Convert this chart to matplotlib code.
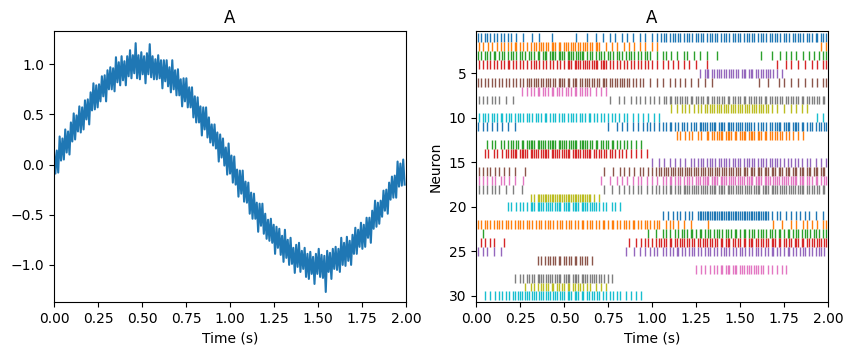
"""
Two-panel figure: noisy sine signal (left) and spike raster of 30 neurons (right).
Values read off the reference picture.
"""
import numpy as np
import matplotlib
matplotlib.use("Agg")
import matplotlib.pyplot as plt

# --- left panel: signal samples (125 Hz) ---
FS = 125.0
signal = [
    0.13, -0.09, 0.14, -0.08, 0.28, 0.04, 0.26, 0.05, 0.35, 0.12,
    0.33, 0.10, 0.42, 0.23, 0.51, 0.25, 0.49, 0.33, 0.58, 0.32,
    0.57, 0.35, 0.64, 0.45, 0.65, 0.40, 0.72, 0.54, 0.81, 0.55,
    0.79, 0.57, 0.80, 0.63, 0.88, 0.68, 0.89, 0.63, 0.94, 0.75,
    0.97, 0.75, 0.96, 0.73, 1.07, 0.82, 1.02, 0.79, 1.08, 0.84,
    1.03, 0.79, 1.08, 0.88, 1.14, 0.86, 1.09, 0.91, 1.21, 0.86,
    1.09, 0.85, 1.12, 0.90, 1.08, 0.81, 1.11, 0.90, 1.20, 0.87,
    1.08, 0.85, 1.05, 0.85, 1.09, 0.86, 1.04, 0.76, 1.04, 0.83,
    1.04, 0.78, 0.97, 0.72, 1.04, 0.75, 0.94, 0.69, 0.95, 0.69,
    0.85, 0.58, 0.86, 0.63, 0.86, 0.57, 0.77, 0.57, 0.77, 0.47,
    0.68, 0.42, 0.67, 0.42, 0.58, 0.29, 0.57, 0.35, 0.57, 0.27,
    0.47, 0.22, 0.40, 0.19, 0.40, 0.16, 0.32, 0.03, 0.30, 0.07,
    0.26, -0.01, 0.17, -0.10, 0.21, -0.09, 0.09, -0.18, 0.08, -0.20,
    -0.05, -0.32, -0.06, -0.29, -0.06, -0.37, -0.17, -0.38, -0.18, -0.49,
    -0.28, -0.54, -0.29, -0.54, -0.38, -0.67, -0.39, -0.61, -0.39, -0.69,
    -0.49, -0.74, -0.55, -0.76, -0.54, -0.78, -0.60, -0.89, -0.62, -0.83,
    -0.64, -0.90, -0.71, -0.97, -0.65, -0.93, -0.75, -1.00, -0.73, -0.99,
    -0.83, -1.08, -0.80, -1.02, -0.78, -1.07, -0.86, -1.04, -0.83, -1.12,
    -0.89, -1.14, -0.87, -1.09, -0.92, -1.19, -0.89, -1.09, -0.84, -1.12,
    -0.90, -1.13, -0.91, -1.27, -0.86, -1.07, -0.88, -1.14, -0.84, -1.04,
    -0.82, -1.05, -0.84, -1.07, -0.73, -1.00, -0.78, -1.01, -0.72, -0.96,
    -0.76, -1.00, -0.70, -0.89, -0.63, -0.89, -0.65, -0.82, -0.58, -0.84,
    -0.60, -0.82, -0.53, -0.73, -0.53, -0.78, -0.46, -0.64, -0.36, -0.62,
    -0.38, -0.59, -0.36, -0.52, -0.26, -0.46, -0.25, -0.49, -0.18, -0.35,
    -0.12, -0.33, -0.11, -0.33, 0.03, -0.22, 0.01, -0.21, 0.05, -0.20,
]

# --- right panel: spike times per neuron, in centiseconds (neuron 1 first) ---
spikes_cs = [
    "1 3 5 6 8 10 12 14 16 18 20 23 27 32 36 43 57 63 68 72 76 79 83 86 89 93 96 100 103 105 107 108 110 112 113 115 116 118 120 121 123 125 126 128 129 131 133 134 136 137 139 141 142 144 146 147 149 150 152 154 155 157 158 160 162 163 165 167 168 170 171 173 175 176 178 180 181 183 184 186 188 189 191 193 194 196 197 199",
    "2 4 7 9 12 14 16 18 20 22 23 25 27 29 31 33 34 36 37 38 40 41 43 44 45 47 48 50 51 52 54 55 56 58 59 61 62 63 65 66 68 69 70 74 77 80 84 87 90 93 96 100 103 196 199",
    "1 3 5 6 8 10 11 13 15 16 18 20 21 23 25 26 28 30 31 33 35 36 38 39 40 42 43 44 45 47 48 49 50 52 53 54 55 57 58 59 60 61 63 65 66 68 70 71 73 75 76 78 80 81 83 85 87 88 90 92 94 96 97 99 103 106 108 111 114 118 120 124 127 131 137 162 168 173 176 179 182 186 189 192 195 197 199",
    "2 4 6 8 10 12 14 16 18 19 21 23 25 27 29 31 33 34 36 38 40 42 44 46 48 50 52 53 54 56 57 58 59 61 62 63 64 66 67 68 69 71 72 73 74 76 78 80 82 84 86 88 90 92 94 96 98 100 103 106 109 112 115 118 121 125 131 171 176 179 183 187 191 194 197 199",
    "127 130 131 132 134 135 137 138 139 141 142 144 145 146 148 149 151 152 153 155 156 157 159 160 162 163 165 166 167 169 171 174",
    "1 3 5 7 9 11 13 15 17 19 21 23 25 27 29 30 31 33 34 35 37 38 40 41 42 44 45 47 48 49 50 52 53 55 56 57 59 60 62 63 64 66 67 69 70 72 73 74 76 77 79 80 82 83 84 86 87 89 91 93 95 99 103 106 110 113 116 119 122 126 130 134 161 166 172 175 179 183 187 191 194 197 199",
    "26 29 31 33 35 36 38 39 41 43 44 46 47 49 51 52 54 56 57 59 60 62 63 65 68 71 74",
    "2 4 6 9 11 13 17 21 76 81 84 88 91 93 96 99 101 104 107 108 110 111 113 114 116 117 119 120 122 123 125 126 128 129 131 132 134 135 137 138 140 141 143 144 146 147 149 150 152 153 155 156 158 159 161 162 164 165 167 168 170 171 173 174 176 177 179 180 182 183 185 186 188 189 191 192 194 195 197 198",
    "111 114 117 119 121 124 126 128 130 131 133 134 135 137 138 139 141 142 143 145 146 147 149 150 151 153 154 155 157 158 159 161 162 163 165 166 168 171 175 179 182 185 188",
    "2 4 5 7 9 10 12 14 15 17 19 20 22 24 25 27 29 30 32 34 35 37 39 40 42 44 45 47 49 50 52 54 55 57 59 60 62 64 65 67 69 71 73 75 77 79 81 84 86 89 92 95 98 101 104 194 197",
    "1 4 6 9 12 15 18 22 75 80 83 86 89 92 95 97 99 101 104 106 108 110 111 113 115 117 118 120 122 124 125 127 128 129 130 131 133 134 135 136 138 139 140 141 143 144 145 146 148 149 150 151 153 154 155 156 158 160 162 163 165 167 168 170 171 172 173 175 176 177 178 180 181 182 183 185 186 188 190 191 193 195 196 198 199",
    "114 116 119 121 123 126 128 131 132 134 135 137 138 139 140 142 143 144 145 147 148 150 151 152 153 155 156 157 158 160 161 162 164 165 167 168 170 171 173 174 176 178 180 183 186",
    "6 9 11 14 16 18 20 21 23 24 26 27 29 30 31 32 33 35 36 37 38 39 41 42 43 44 45 47 48 49 50 51 53 54 55 56 57 59 60 61 62 63 65 66 68 69 71 72 74 75 77 78 80 82 84 86 88 91 94",
    "5 7 10 12 15 17 18 20 21 22 23 25 26 27 28 29 31 32 33 34 35 37 38 39 40 41 43 44 45 46 47 49 50 51 52 53 55 56 57 58 59 61 62 63 64 65 67 68 70 71 73 74 76 77 79 81 83 85 88 91 94 97",
    "100 104 107 110 113 116 119 122 124 126 128 129 131 133 134 136 138 139 141 142 144 146 147 149 150 152 154 155 157 158 160 162 163 165 167 168 170 171 173 175 177 179 181 183 185 188 190 193 196 199",
    "2 4 6 8 11 13 16 19 22 28 73 78 82 84 87 90 93 95 98 100 102 104 105 107 108 109 111 112 113 115 116 117 119 120 121 122 124 125 126 128 129 130 132 133 134 136 137 138 140 141 142 144 145 146 148 149 150 152 153 154 156 157 158 160 161 162 164 165 166 168 169 170 172 173 174 176 177 178 180 181 182 184 185 186 188 189 190 192 193 194 196 197 198",
    "2 4 6 9 11 14 16 19 22 27 71 76 80 83 86 89 92 94 97 100 103 106 108 110 111 113 115 116 118 120 121 123 125 126 127 129 130 131 132 134 135 136 137 139 140 141 142 144 145 146 147 149 150 151 152 154 155 156 157 159 160 161 162 164 165 166 167 169 170 171 172 174 175 176 177 179 180 181 182 184 185 186 188 189 191 193 194 196 198 199",
    "2 4 6 9 11 13 17 21 26 73 77 81 84 87 89 92 94 97 100 102 104 106 108 110 111 113 115 116 118 119 120 121 123 124 125 126 128 129 130 131 133 134 135 136 138 139 140 141 143 144 145 146 148 149 150 151 153 154 155 156 158 159 160 161 163 164 165 166 168 169 170 171 173 174 175 176 178 179 180 181 183 184 185 186 188 189 191 192 194 195 197 198",
    "31 33 35 36 37 38 39 40 41 42 43 44 45 46 47 48 49 50 51 52 53 54 55 56 57 58 59 60 61 62 63 64 65 67 70",
    "18 20 23 25 27 29 31 32 33 35 36 37 38 40 41 42 43 45 46 47 48 50 51 52 53 55 56 57 58 60 61 62 63 65 66 67 68 70 72 74 77 79 82",
    "106 109 112 114 116 119 121 123 126 127 128 129 130 131 132 133 134 135 136 137 138 139 140 141 142 143 144 145 146 147 148 149 150 151 152 153 154 155 156 157 158 159 160 161 162 163 164 165 166 168 171 173 176 179 182 184 187 189 193 197",
    "1 3 5 6 8 10 12 13 15 17 18 20 22 24 25 27 29 30 32 34 36 37 39 41 42 44 46 48 49 51 53 54 56 58 60 61 63 65 66 68 70 72 73 75 77 78 80 82 84 85 87 89 90 92 94 96 97 99 101 103 104 108 110 112 115 118 122 132 169 174 179 182 186 188 191 194 197 199",
    "4 98 102 106 108 110 113 115 117 118 120 122 123 125 127 128 130 132 133 135 137 138 140 142 143 145 147 148 150 152 153 155 157 158 160 162 163 165 167 168 170 172 173 175 177 178 180 182 183 185 187 188 190 192 193 195 197 199",
    "3 5 8 10 16 87 91 94 96 98 100 102 104 105 107 108 110 111 113 114 116 117 118 120 121 123 124 126 127 129 130 131 133 134 136 137 139 140 142 143 144 146 147 149 150 152 153 155 156 157 159 160 162 163 165 166 168 169 170 172 173 175 176 178 179 181 182 183 185 186 188 189 191 192 194 195 196 198 199",
    "1 4 6 10 14 85 90 93 96 99 101 103 106 108 110 112 114 115 117 119 121 123 124 126 128 130 132 133 135 137 139 141 142 144 146 148 150 151 153 155 157 159 160 162 164 166 168 169 171 173 175 177 178 180 182 184 186 187 189 191 193 195 196 198",
    "35 37 39 41 42 44 45 47 48 50 51 53 54 56 57 59 60 62 63 66",
    "125 128 130 133 135 137 139 140 142 143 144 146 147 148 150 151 152 154 155 156 158 159 160 162 163 166 168 171 174 176",
    "22 25 27 29 30 32 33 35 36 37 38 40 41 42 43 45 46 47 48 50 51 52 53 55 56 57 58 60 61 62 63 65 66 67 68 70 71 73 75 77",
    "28 31 33 35 37 38 40 41 43 44 46 47 49 50 52 53 55 56 58 59 61 63 65 68 71 74",
    "5 8 11 13 15 17 19 21 22 24 25 26 28 29 30 32 33 34 36 37 38 40 41 42 44 45 46 48 49 50 52 53 54 56 57 58 60 61 63 64 66 67 69 70 72 74 76 78 80 82 85 88 91 94",
]
neurons = np.arange(1, len(spikes_cs) + 1)
spike_times = [np.array(s.split(), float) / 100.0 for s in spikes_cs]

fig = plt.figure(figsize=(8.53, 3.55), dpi=100)
axL = fig.add_axes([0.0633, 0.1493, 0.4127, 0.763])
axR = fig.add_axes([0.558, 0.1493, 0.4127, 0.763])

# ---------- left: signal ----------
t = np.arange(len(signal)) / FS
axL.plot(t, signal, color="C0", lw=1.5)
axL.set_xlim(0, 2)
axL.set_ylim(-1.37, 1.33)
axL.set_xticks(np.arange(0, 2.01, 0.25))
axL.set_yticks([-1.0, -0.5, 0.0, 0.5, 1.0])
axL.set_xlabel("Time (s)")
axL.set_title("A")

# ---------- right: raster ----------
colors = ["C%d" % ((n - 1) % 10) for n in neurons]
axR.eventplot(spike_times, lineoffsets=neurons, linelengths=1.0, colors=colors, linewidths=1.0)
axR.set_xlim(0, 2)
axR.set_ylim(30.68, 0.27)
axR.set_xticks(np.arange(0, 2.01, 0.25))
axR.set_yticks([5, 10, 15, 20, 25, 30])
axR.set_xlabel("Time (s)")
axR.set_ylabel("Neuron")
axR.set_title("A")

fig.savefig("out.png", dpi=100)
print("wrote out.png")
